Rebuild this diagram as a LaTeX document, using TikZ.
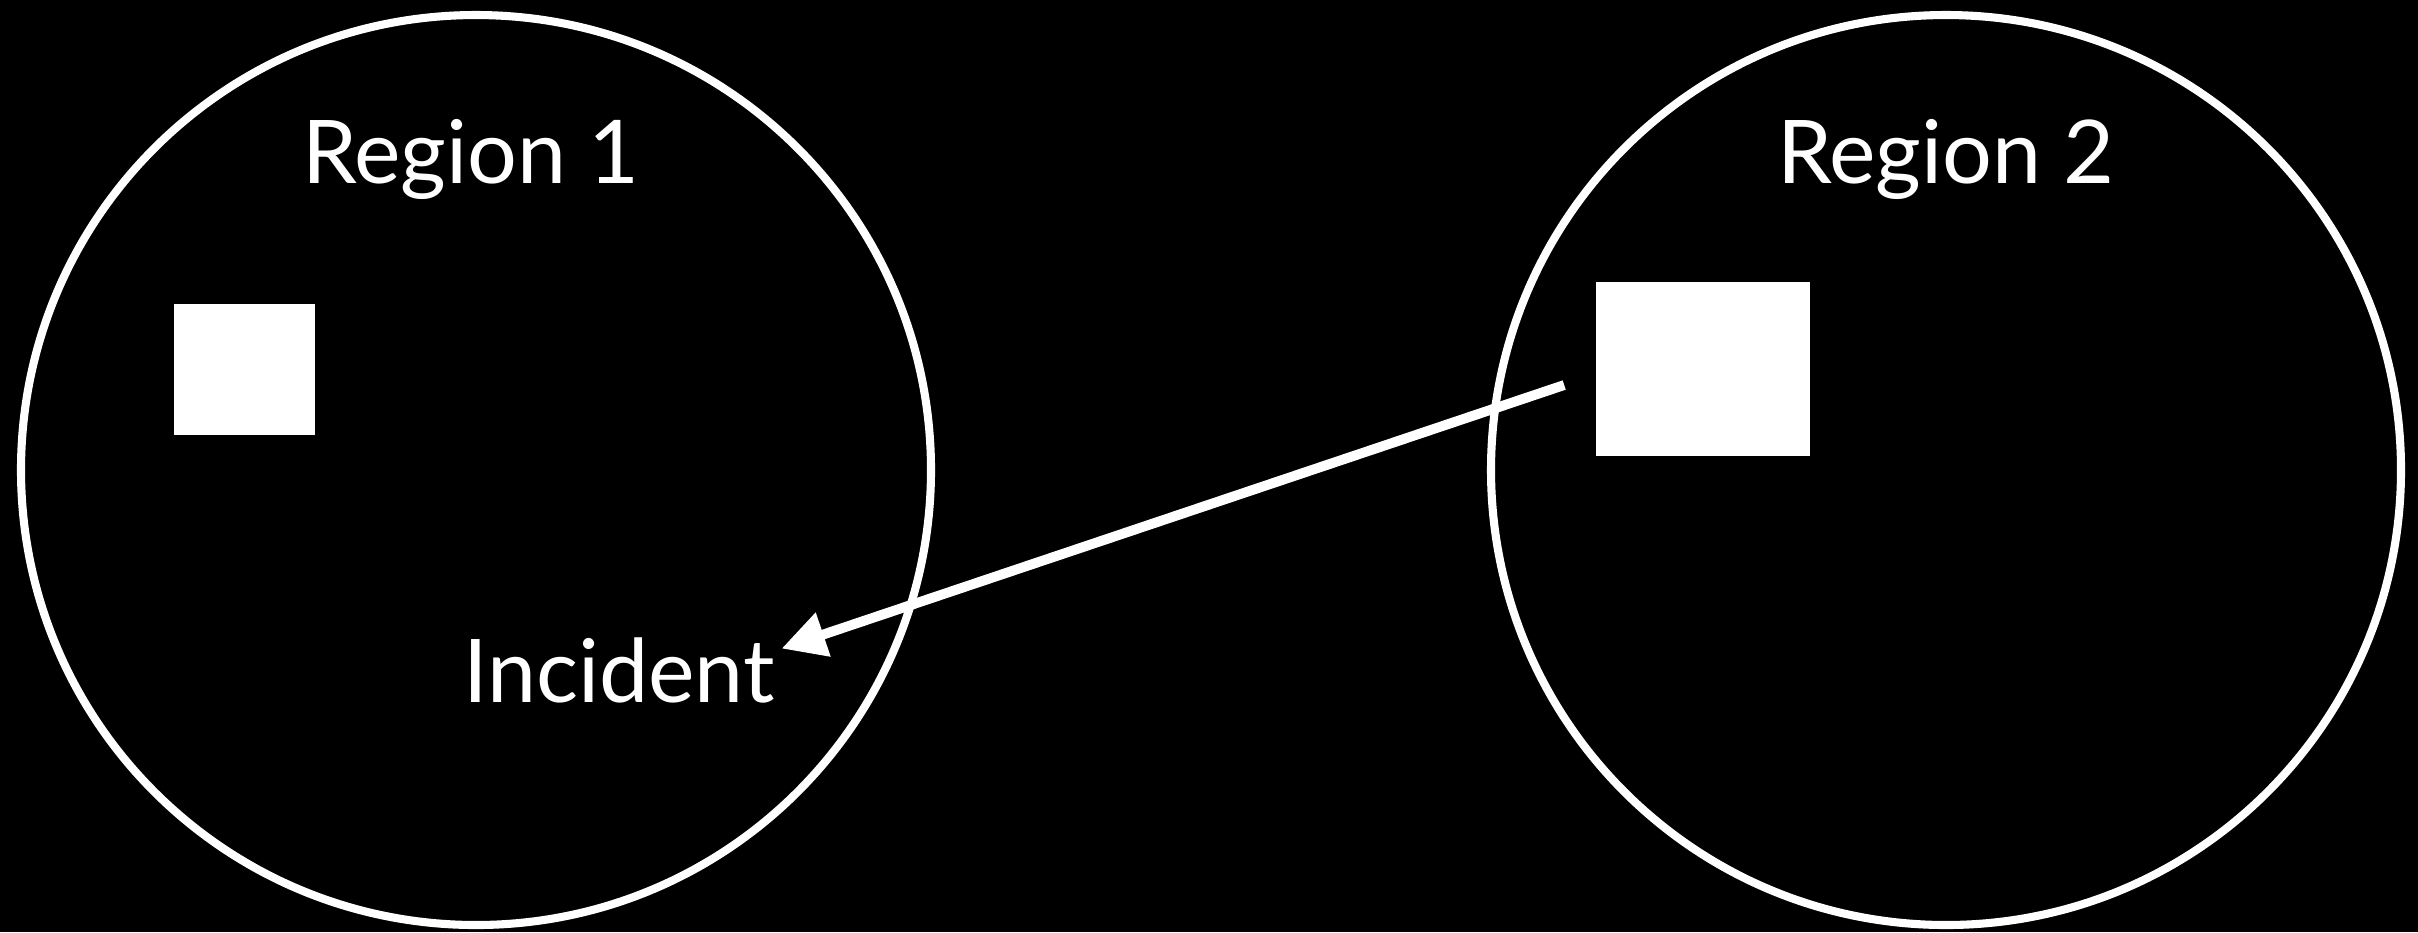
\documentclass[tikz,border=0pt]{standalone}
\usepackage{fontspec}
\setmainfont{Lato}
\usetikzlibrary{arrows.meta,positioning}

\begin{document}
\begin{tikzpicture}[x=0.01cm,y=-0.01cm,
    region/.style={draw=white,line width=2.3pt},
    site/.style={fill=white,draw=none,inner sep=0pt},
    lbl/.style={text=white,font=\fontsize{25}{30}\selectfont,inner sep=0pt,anchor=base},
    arr/.style={white,line width=2.8pt,-{Triangle[length=12.5pt,width=12.5pt]}}]
  % fond
  \fill[black] (0,0) rectangle (2418,932);
  \useasboundingbox (0,0) rectangle (2418,932);

  % Regions
  \draw[region] (476,470) circle (455);
  \draw[region] (1946,470) circle (455);
  \node[lbl] (reg1) at (471,183) {Region 1};
  \node[lbl] (reg2) at (1946,183) {Region 2};

  % Sites
  \node[site,minimum width=1.41cm,minimum height=1.31cm] (sq1) at (244.5,369.5) {};
  \node[site,minimum width=2.14cm,minimum height=1.74cm] (sq2) at (1703,369) {};

  % Incident
  \node[lbl] (incident) at (619,702) {Incident};
  \coordinate (from) at ([xshift=-0.31cm,yshift=-0.16cm]sq2.west);
  \draw[arr] (from) -- ([xshift=0.06cm,yshift=-0.12cm]incident.north east);
\end{tikzpicture}
\end{document}
